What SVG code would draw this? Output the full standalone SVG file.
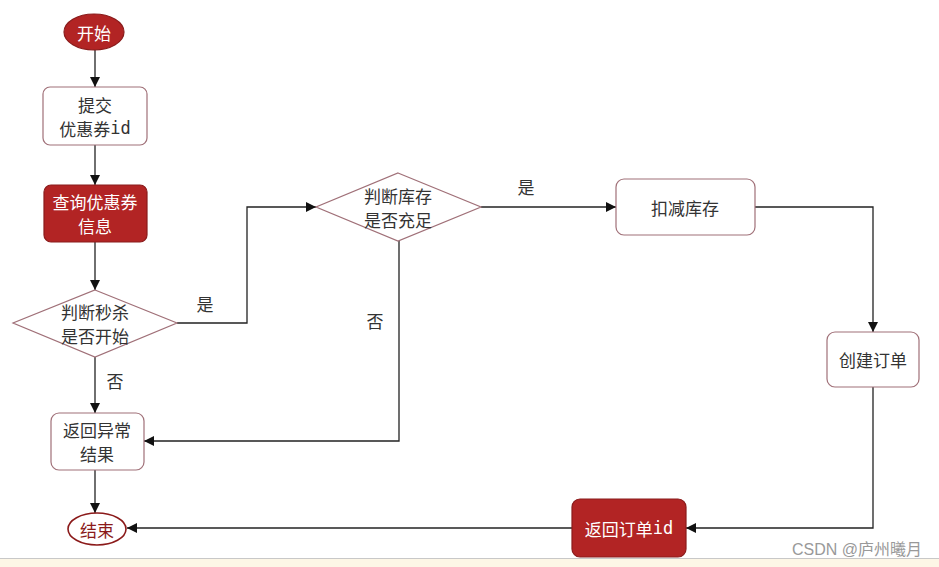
<svg xmlns="http://www.w3.org/2000/svg" width="939" height="567" viewBox="0 0 939 567">
<style>
.lbl{font-family:"Noto Sans CJK SC","Liberation Sans",sans-serif;font-size:17px;fill:#333;text-anchor:middle;dominant-baseline:central}
.mono{font-family:"DejaVu Sans Mono","Liberation Mono",monospace}
.wl{fill:#fff}
.dk{fill:#8b1a1a}
.box{fill:#fff;stroke:#a07078;stroke-width:1.2}
.red{fill:#b22424;stroke:#8a1c1c;stroke-width:1.2}
.con{fill:none;stroke:#222;stroke-width:1.3}
.wm{font-family:"Liberation Sans","Noto Sans CJK SC",sans-serif;font-size:16px;fill:#999}
</style>
<defs>
<marker id="ah" viewBox="0 0 10 10" refX="10" refY="5" markerWidth="10" markerHeight="10" markerUnits="userSpaceOnUse" orient="auto">
<path d="M0,0 L10,5 L0,10 Z" fill="#111"/>
</marker>
</defs>
<rect x="0" y="0" width="939" height="567" fill="#fff"/>
<rect x="0" y="558" width="939" height="9" fill="#fdf6e6"/>
<line x1="0" y1="558.5" x2="939" y2="558.5" stroke="#c8c8c8" stroke-width="1"/>

<g id="connectors">
<path class="con" d="M95,50 V87" marker-end="url(#ah)"/>
<path class="con" d="M95,145 V185" marker-end="url(#ah)"/>
<path class="con" d="M95,242 V290" marker-end="url(#ah)"/>
<path class="con" d="M177,323 H247 V207 H316" marker-end="url(#ah)"/>
<path class="con" d="M95,357 V413" marker-end="url(#ah)"/>
<path class="con" d="M481,207 H616" marker-end="url(#ah)"/>
<path class="con" d="M399,241 V441 H144" marker-end="url(#ah)"/>
<path class="con" d="M755,207 H873 V332" marker-end="url(#ah)"/>
<path class="con" d="M873,387 V528 H686" marker-end="url(#ah)"/>
<path class="con" d="M95,470 V513" marker-end="url(#ah)"/>
<path class="con" d="M572,528 H127" marker-end="url(#ah)"/>
<text class="lbl" x="205" y="303">是</text>
<text class="lbl" x="526" y="186">是</text>
<text class="lbl" x="115" y="380">否</text>
<text class="lbl" x="375" y="320">否</text>
</g>

<g id="start">
<ellipse class="red" cx="94" cy="32" rx="30" ry="18"/>
<text class="lbl wl" x="94" y="32">开始</text>
</g>
<g id="submit">
<rect class="box" x="43" y="87" width="104" height="58" rx="7"/>
<text class="lbl" x="95" y="104">提交</text>
<text class="lbl" x="95" y="128">优惠券<tspan class="mono">id</tspan></text>
</g>
<g id="query">
<rect class="red" x="44" y="185" width="103" height="57" rx="7"/>
<text class="lbl wl" x="95" y="201">查询优惠券</text>
<text class="lbl wl" x="95" y="225">信息</text>
</g>
<g id="check-start">
<polygon class="box" points="95,290 177,323 95,357 13,323"/>
<text class="lbl" x="95" y="311">判断秒杀</text>
<text class="lbl" x="95" y="335">是否开始</text>
</g>
<g id="check-stock">
<polygon class="box" points="398,173 481,207 398,241 316,207"/>
<text class="lbl" x="398" y="195">判断库存</text>
<text class="lbl" x="398" y="219">是否充足</text>
</g>
<g id="deduct">
<rect class="box" x="616" y="179" width="139" height="56" rx="8"/>
<text class="lbl" x="685" y="207">扣减库存</text>
</g>
<g id="create">
<rect class="box" x="827" y="332" width="92" height="55" rx="8"/>
<text class="lbl" x="873" y="359">创建订单</text>
</g>
<g id="return-id">
<rect class="red" x="572" y="499" width="114" height="58" rx="8"/>
<text class="lbl wl" x="629" y="528">返回订单<tspan class="mono">id</tspan></text>
</g>
<g id="return-err">
<rect class="box" x="51" y="413" width="93" height="57" rx="8"/>
<text class="lbl" x="97" y="429">返回异常</text>
<text class="lbl" x="97" y="453">结果</text>
</g>
<g id="end">
<ellipse cx="97" cy="529" rx="29" ry="16" fill="#fff" stroke="#8b1a1a" stroke-width="1.6"/>
<text class="lbl dk" x="97" y="529">结束</text>
</g>
<text class="wm" x="792" y="555">CSDN @庐州曦月</text>
</svg>
